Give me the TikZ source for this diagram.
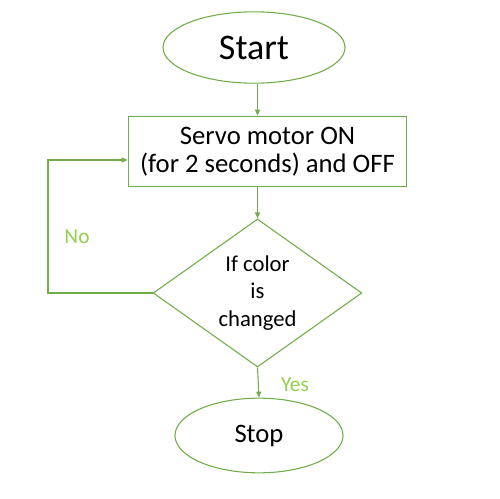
\documentclass[tikz,border=0pt]{standalone}
\usepackage{fontspec}
\setmainfont{Carlito}
\usetikzlibrary{arrows.meta,shapes.geometric}
\definecolor{lineg}{RGB}{112,173,71}
\definecolor{labelg}{RGB}{146,208,80}
\tikzset{
	flow/.style={draw=lineg,line width=.8pt,-{Triangle[length=4.5pt,width=3.8pt]}},
	term/.style={ellipse,draw=lineg,line width=.8pt,inner sep=0pt},
	proc/.style={rectangle,draw=lineg,line width=.8pt,inner sep=0pt,align=center,
		minimum width=209pt,minimum height=53pt,font=\fontsize{20}{21}\selectfont},
	decide/.style={diamond,draw=lineg,line width=.8pt,inner sep=0pt,align=center,
		shape aspect=1.41,minimum width=156.5pt,minimum height=111pt,
		font=\fontsize{17}{20.5}\selectfont},
	answer/.style={text=labelg,font=\fontsize{16}{18}\selectfont}
}
\begin{document}
\begin{tikzpicture}[x=.75pt,y=-.75pt]
	\useasboundingbox (0,0) rectangle (500,499);
	\node[term,minimum width=136.5pt,minimum height=53.5pt,font=\fontsize{27}{30}\selectfont] (start) at (254,47.5) {Start};
	\node[proc] (servo) at (267.5,151.5) {Servo motor ON\\(for 2 seconds) and OFF};
	\node[decide] (check) at (257.5,293) {If color\\is\\changed};
	\node[term,minimum width=126pt,minimum height=56pt,font=\fontsize{20}{22}\selectfont] (stop) at (259,435.5) {Stop};
	\coordinate (back) at (48,160);
	\draw[flow] (check |- start.south) -- (check |- servo.north);
	\draw[flow] (check |- servo.south) -- (check.north);
	\draw[flow] (check.south) -- (stop.north);
	\draw[flow] (check.west) -| (back) -- (back -| servo.west);
	\foreach \t/\p in {No/{(77,237)},Yes/{(295,385)}} \node[answer] (lab\t) at \p {\t};
\end{tikzpicture}
\end{document}
